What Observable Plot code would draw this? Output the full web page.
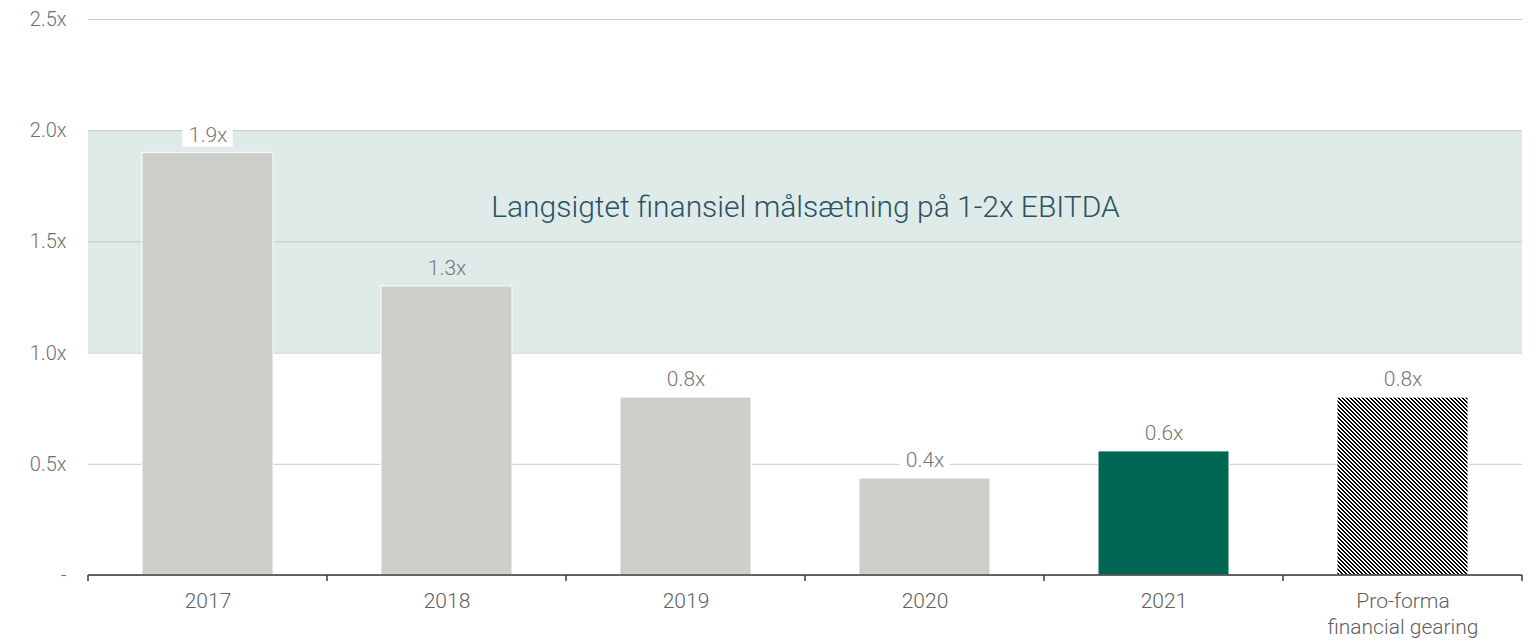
<!DOCTYPE html>
<html>
<head>
<meta charset="utf-8">
<script src="https://cdn.jsdelivr.net/npm/d3@7"></script>
<script src="https://cdn.jsdelivr.net/npm/@observablehq/plot@0.6"></script>
<style>
  html, body { margin: 0; padding: 0; background: #fff; }
  #chart svg { display: block; }
</style>
</head>
<body>
<svg width="0" height="0" style="position:absolute">
  <defs>
    <pattern id="hatch" width="4" height="4" patternUnits="userSpaceOnUse" shape-rendering="crispEdges">
      <rect width="4" height="4" fill="#fff"></rect>
      <rect x="0" y="0" width="2" height="1" fill="#000"></rect>
      <rect x="1" y="1" width="2" height="1" fill="#000"></rect>
      <rect x="2" y="2" width="2" height="1" fill="#000"></rect>
      <rect x="3" y="3" width="1" height="1" fill="#000"></rect>
      <rect x="0" y="3" width="1" height="1" fill="#000"></rect>
    </pattern>
  </defs>
</svg>
<div id="chart"></div>
<script>
// ---- data ----
const categories = ["2017", "2018", "2019", "2020", "2021", "Pro-forma\nfinancial gearing"];
const values = [1.9, 1.3, 0.8, 0.436, 0.558, 0.8];
const valueLabels = ["1.9x", "1.3x", "0.8x", "0.4x", "0.6x", "0.8x"];
const barKinds = ["hist", "hist", "hist", "hist", "current", "proforma"];
const yTicks = [0, 0.5, 1.0, 1.5, 2.0, 2.5];
const yTickLabels = ["-", "0.5x", "1.0x", "1.5x", "2.0x", "2.5x"];
const targetBand = [{ y1: 1.0, y2: 2.0 }];
const targetText = "Langsigtet finansiel målsætning på 1-2x EBITDA";
const targetTextY = 1.655;

const data = categories.map((c, i) => ({ cat: c, value: values[i], label: valueLabels[i], kind: barKinds[i] }));
const fillFor = { hist: "#cdcfca", current: "#006654", proforma: "url(#hatch)" };

const FONT = "Roboto, 'Liberation Sans', sans-serif";
const labelOffset = 18; // px above bar
const labelFont = 21;
const height = 642, marginTop = 19, marginBottom = 67;
const pxPerUnit = (height - marginTop - marginBottom) / 2.5;
// labels that sit on a gridline get a white background box
const needsBox = d => {
  const lv = d.value + labelOffset / pxPerUnit;
  return yTicks.some(t => Math.abs(lv - t) < 0.05);
};

// white boxes behind value labels that cross a gridline
function labelBoxes(index, scales) {
  const x = scales.x, y = scales.y, bw = x.bandwidth();
  const g = d3.create("svg:g");
  g.selectAll("rect").data(data.filter(needsBox)).join("rect")
    .attr("x", d => x(d.cat) + bw / 2 - d.label.length * labelFont * 0.3)
    .attr("width", d => d.label.length * labelFont * 0.6)
    .attr("y", d => y(d.value) - labelOffset - labelFont * 0.6)
    .attr("height", labelFont * 1.2)
    .attr("fill", "#fff");
  return g.node();
}

// axis line with boundary ticks between bands
function boundaryTicks(index, scales) {
  const x = scales.x;
  const step = x.step(), bw = x.bandwidth();
  const pos = categories.map(c => x(c) - (step - bw) / 2);
  pos.push(x(categories[categories.length - 1]) + bw + (step - bw) / 2);
  const y0 = scales.y(0);
  const g = d3.create("svg:g");
  g.append("path")
    .attr("d", `M${pos[0]},${y0}H${pos[pos.length - 1]}`)
    .attr("stroke", "#3a3a3a").attr("stroke-width", 1.5).attr("fill", "none");
  g.selectAll("line").data(pos).join("line")
    .attr("x1", d => d).attr("x2", d => d)
    .attr("y1", y0).attr("y2", y0 + 6)
    .attr("stroke", "#3a3a3a").attr("stroke-width", 1.5);
  return g.node();
}

const chart = Plot.plot({
  width: 1537,
  height,
  marginTop,
  marginBottom,
  marginLeft: 88,
  marginRight: 15,
  style: { fontFamily: FONT, background: "#fff" },
  x: { domain: categories, paddingInner: 0.45, paddingOuter: 0.225, label: null },
  y: { domain: [0, 2.5], label: null },
  marks: [
    Plot.rect(targetBand, { y1: "y1", y2: "y2", fill: "#dfebe8" }),
    Plot.gridY(yTicks, { stroke: "#c8c8c8", strokeOpacity: 1, strokeWidth: 1 }),
    Plot.text([targetText], {
      y: () => targetTextY, text: d => d, frameAnchor: "middle",
      fontSize: 30, fill: "#2b5264", fontWeight: 300
    }),
    Plot.barY(data, {
      x: "cat", y: "value",
      fill: d => fillFor[d.kind],
      stroke: "#fff", strokeWidth: 1
    }),
    labelBoxes,
    Plot.text(data, {
      x: "cat", y: "value", text: "label", dy: -labelOffset,
      fontSize: labelFont, fill: "#767676", fontWeight: 300
    }),
    Plot.axisY({
      ticks: yTicks, tickFormat: d => yTickLabels[yTicks.indexOf(d)],
      tickSize: 0, tickPadding: 22, fontSize: 20, fill: "#707070", fontWeight: 300, label: null
    }),
    Plot.axisX({
      tickSize: 0, tickPadding: 15, fontSize: 21, fill: "#606060", fontWeight: 300,
      lineHeight: 1.2, label: null
    }),
    boundaryTicks
  ]
});
document.getElementById("chart").appendChild(chart);
</script>
</body>
</html>
